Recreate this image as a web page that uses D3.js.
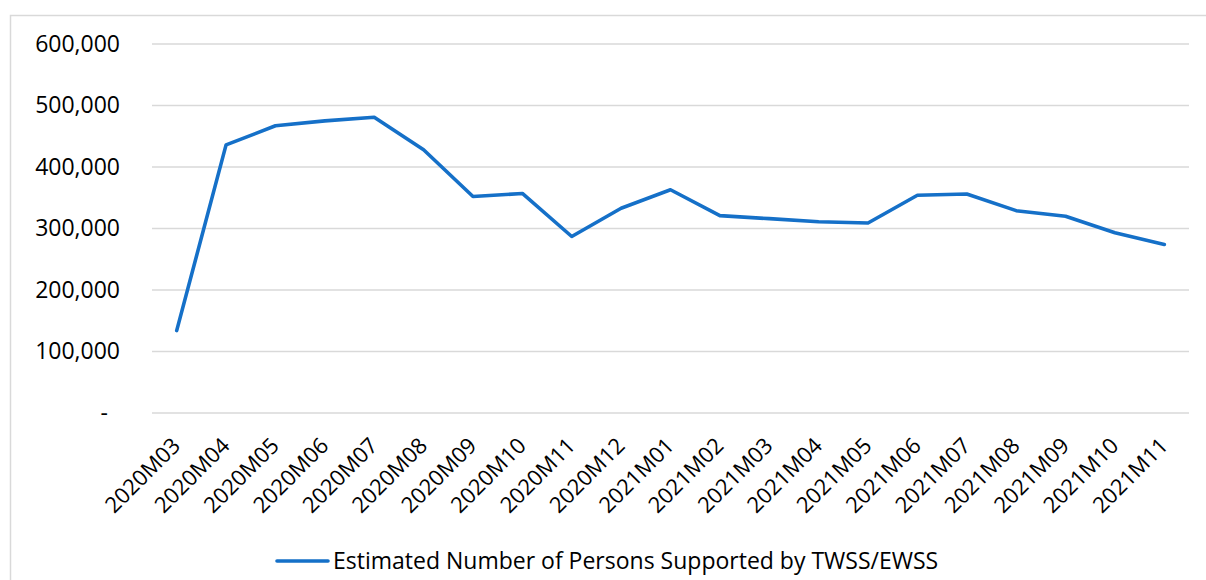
<!DOCTYPE html>
<html><head><meta charset="utf-8">
<script src="https://cdn.jsdelivr.net/npm/d3@7"></script>
<style>
html,body{margin:0;padding:0;background:#fff;}
text{font-family:"Open Sans","Liberation Sans",sans-serif;fill:#000;}
</style></head>
<body><svg id="c" width="1206" height="580"></svg>
<script>
const categories = ["2020M03","2020M04","2020M05","2020M06","2020M07","2020M08","2020M09","2020M10","2020M11","2020M12","2021M01","2021M02","2021M03","2021M04","2021M05","2021M06","2021M07","2021M08","2021M09","2021M10","2021M11"];
const persons = [134000,436000,467000,475000,481000,428000,352000,357000,287000,333000,363000,321000,316000,311000,309000,354000,356000,329000,320000,293000,274000];
const yTicks = [0,100000,200000,300000,400000,500000,600000];
const seriesName = "Estimated Number of Persons Supported by TWSS/EWSS";

(function(){
const svg = d3.select("#c");
svg.append("rect").attr("x",10.5).attr("y",15.5).attr("width",1200).attr("height",600)
  .attr("fill","none").attr("stroke","#d9d9d9").attr("stroke-width",1.5);

const mL=152, mR=1189, mT=44, mB=413;
const x = d3.scaleBand().domain(categories).range([mL,mR]);
const y = d3.scaleLinear().domain([0,600000]).range([mB,mT]);

const fmt = d=> d===0 ? "-" : d3.format(",")(d);
svg.append("g").selectAll("line").data(yTicks).join("line")
  .attr("x1",mL).attr("x2",mR).attr("y1",d=>y(d)).attr("y2",d=>y(d))
  .attr("stroke","#d9d9d9").attr("stroke-width",1.3);

const yAxis = svg.append("g").attr("transform",`translate(${mL},0)`)
  .call(d3.axisLeft(y).tickValues(yTicks).tickFormat(fmt).tickSize(0).tickPadding(32));
yAxis.select(".domain").remove();
yAxis.selectAll("text").attr("font-size",23).attr("font-family","Open Sans, Liberation Sans, sans-serif").attr("fill","#000");
yAxis.selectAll(".tick").filter(d=>d===0).select("text").attr("dx",-12);

const xAxis = svg.append("g").attr("transform",`translate(0,${mB})`)
  .call(d3.axisBottom(x).tickSize(0).tickPadding(0));
xAxis.select(".domain").remove();
xAxis.selectAll("text")
  .attr("font-size",22).attr("font-family","Open Sans, Liberation Sans, sans-serif").attr("fill","#000")
  .attr("text-anchor","end").attr("dy",0).attr("y",0)
  .attr("transform","translate(5,34) rotate(-45)");

const line = d3.line().x((d,i)=>x(categories[i])+x.bandwidth()/2).y(d=>y(d));
svg.append("path").datum(persons).attr("d",line)
  .attr("fill","none").attr("stroke","#1570c8").attr("stroke-width",3.6)
  .attr("stroke-linejoin","round").attr("stroke-linecap","round");

const lg = svg.append("g");
lg.append("line").attr("x1",277).attr("x2",328).attr("y1",561).attr("y2",561)
  .attr("stroke","#1570c8").attr("stroke-width",3.6).attr("stroke-linecap","round");
lg.append("text").attr("x",333).attr("y",569).attr("font-size",23).text(seriesName);
})();
</script></body></html>
